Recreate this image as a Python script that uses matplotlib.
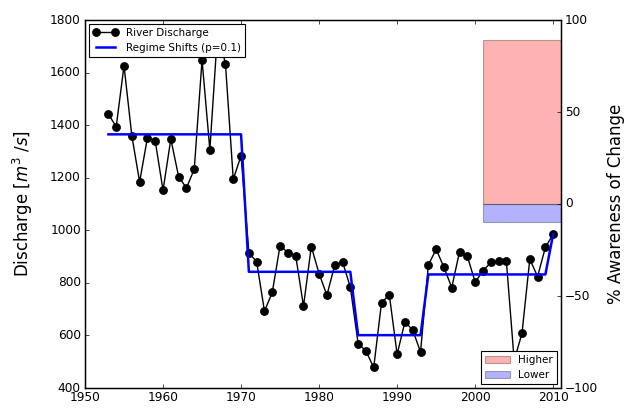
import matplotlib
matplotlib.use("Agg")
import matplotlib.pyplot as plt
import numpy as np

years = list(range(1953, 2011))
discharge = [1442, 1394, 1626, 1360, 1184, 1352, 1340, 1152, 1347, 1204,
             1161, 1232, 1648, 1306, 1760, 1633, 1194, 1284, 915, 880,
             692, 764, 942, 915, 904, 711, 938, 835, 753, 867,
             880, 784, 569, 541, 478, 725, 754, 528, 652, 620,
             537, 868, 928, 859, 782, 919, 901, 803, 845, 878,
             882, 882, 505, 608, 890, 824, 935, 986]
regime = [1365] * 18 + [842] * 14 + [601] * 9 + [832] * 16 + [986]

bar_labels = ["Higher", "Lower"]
bar_values = [89, -10]
bar_start = 2001
bar_width = 10

plt.style.use("classic")
plt.rcParams["font.family"] = ["DejaVu Sans"]
plt.rcParams["mathtext.fontset"] = "dejavusans"

fig = plt.figure(figsize=(6.28, 4.08), dpi=100)
ax = fig.add_axes([85/628, 1-388/408, (561-85)/628, (388-20)/408])

ax.plot(years, discharge, "-o", color="black", lw=1.0, ms=5.8,
        markeredgecolor="black", label="River Discharge")
ax.plot(years, regime, "-", color="blue", lw=1.8, label="Regime Shifts (p=0.1)")
ax.set_xlim(1950, 2011)
ax.set_ylim(400, 1800)
ax.set_xticks(np.arange(1950, 2011, 10))
ax.set_yticks(np.arange(400, 1801, 200))
ax.ticklabel_format(useOffset=False, style="plain")
ax.set_ylabel(r"Discharge [$m^3\ /s$]", fontsize=12, labelpad=11)
ax.tick_params(labelsize=8.7, length=3, direction="in", top=True, right=False)
ax.tick_params(axis="x", pad=2)
ax.tick_params(axis="y", pad=3)
for s in ax.spines.values():
    s.set_linewidth(0.8)
leg1 = ax.legend(loc="upper left", fontsize=7.5, numpoints=2, borderaxespad=0.35,
                 handlelength=2.4, fancybox=False)
leg1.get_frame().set_linewidth(0.8)

ax2 = ax.twinx()
colors = ["red", "blue"]
for lab, val, c in zip(bar_labels, bar_values, colors):
    ax2.bar(bar_start, val, width=bar_width, align="edge", color=c, alpha=0.3,
            edgecolor="black", linewidth=0.8, label=lab)
ax2.set_ylim(-100, 100)
ax2.set_xlim(1950, 2011)
ax2.ticklabel_format(axis="x", useOffset=False, style="plain")
ax2.set_yticks([-100, -50, 0, 50, 100])
ax2.set_ylabel("% Awareness of Change", fontsize=12, labelpad=6)
ax2.tick_params(labelsize=8.7, length=3, direction="in", pad=3)
leg2 = ax2.legend(loc="lower right", fontsize=7.5, borderaxespad=0.35,
                  handlelength=2.4, fancybox=False)
leg2.get_frame().set_linewidth(0.8)

fig.savefig("out.png", dpi=100)
